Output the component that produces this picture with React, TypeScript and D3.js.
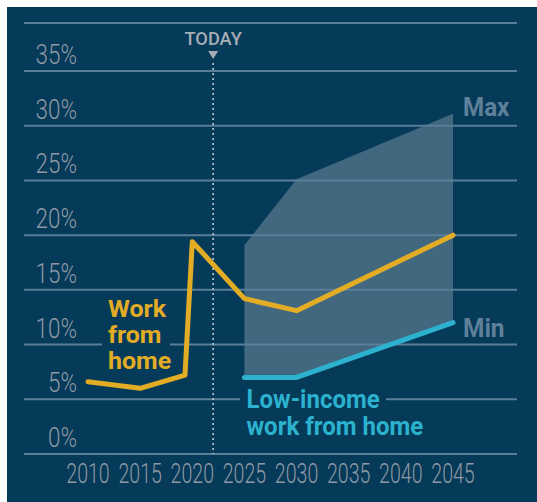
import React from "react";
import * as d3 from "d3";

const W = 537;
const H = 502;

const yTicks = [0, 5, 10, 15, 20, 25, 30, 35];
const xTicks = [2010, 2015, 2020, 2025, 2030, 2035, 2040, 2045];

const workYears = [2010, 2015, 2019.3, 2020, 2025, 2030, 2045];
const workValues = [6.6, 6.0, 7.2, 19.4, 14.2, 13.1, 20.0];

const lowYears = [2025, 2030, 2045];
const lowValues = [7.0, 7.0, 12.0];

const bandYears = [2025, 2030, 2045];
const bandMax = [19.1, 25.1, 31.1];
const bandMin = [7.0, 7.0, 12.0];

const todayYear = 2022;

const workLabel = ["Work", "from", "home"];
const lowLabel = ["Low-income", "work from home"];

const BG = "#053a59";
const GRID = "#5a7e98";
const AXIS_TEXT = "#8e99a5";
const GOLD = "#e2ad25";
const CYAN = "#2cb2ce";
const MUTED = "#5f8099";

// condensed text: natural text squeezed horizontally; lines become tspans
function CText(props: {
  x: number;
  y: number;
  sx: number;
  anchor?: "start" | "middle" | "end";
  size: number;
  weight: number;
  fill: string;
  lines?: string[];
  lineHeight?: number;
  children?: React.ReactNode;
}) {
  return (
    <text
      transform={`translate(${props.x},${props.y}) scale(${props.sx},1)`}
      textAnchor={props.anchor || "start"}
      fontSize={props.size}
      fontWeight={props.weight}
      fill={props.fill}
    >
      {props.lines
        ? props.lines.map((l, i) => (
            <tspan key={i} x={0} dy={i === 0 ? 0 : props.lineHeight}>
              {l}
            </tspan>
          ))
        : props.children}
    </text>
  );
}

export default function App() {
  const x = d3.scaleLinear().domain([2010, 2045]).range([88, 453]);
  const y = d3.scaleLinear().domain([0, 35]).range([454, 71]);

  const work = workYears.map((yr, i) => [yr, workValues[i]] as [number, number]);
  const low = lowYears.map((yr, i) => [yr, lowValues[i]] as [number, number]);
  const band = bandYears.map((yr, i) => ({ yr, lo: bandMin[i], hi: bandMax[i] }));

  const line = d3
    .line<[number, number]>()
    .x((d) => x(d[0]))
    .y((d) => y(d[1]));
  const area = d3
    .area<{ yr: number; lo: number; hi: number }>()
    .x((d) => x(d.yr))
    .y0((d) => y(d.lo))
    .y1((d) => y(d.hi));

  const gridX0 = 24;
  const gridX1 = 517;
  const tx = x(todayYear);
  const labelFont = "Roboto, 'Liberation Sans', sans-serif";

  return (
    <svg
      width={W}
      height={H}
      style={{ position: "absolute", left: 0, top: 0 }}
      fontFamily={labelFont}
    >
      <rect x={7} y={7} width={W - 7} height={H - 7} fill={BG} />

      {/* band */}
      <path d={area(band) || ""} fill="#7f95a8" fillOpacity={0.5} />

      {/* top rule */}
      <line x1={gridX0} x2={gridX1} y1={23} y2={23} stroke={GRID} strokeWidth={2} />
      {/* gridlines */}
      {yTicks.map((t) => (
        <line key={t} x1={gridX0} x2={gridX1} y1={y(t)} y2={y(t)} stroke={GRID} strokeWidth={2} />
      ))}

      {/* y labels */}
      {yTicks.map((t) => (
        <CText key={t} x={77} y={y(t) - 7} sx={0.8} anchor="end" size={28} weight={300} fill={AXIS_TEXT}>
          {t}%
        </CText>
      ))}

      {/* x labels */}
      {xTicks.map((t) => (
        <CText key={t} x={x(t)} y={483} sx={0.7} anchor="middle" size={28} weight={300} fill={AXIS_TEXT}>
          {t}
        </CText>
      ))}

      {/* today */}
      <line x1={tx} x2={tx} y1={63} y2={y(0)} stroke="#c9d1d8" strokeWidth={1.5} strokeDasharray="2,3" />
      <path d={`M${tx - 5},51 L${tx + 5},51 L${tx},59 Z`} fill="#a6adb4" />
      <CText x={tx} y={45} sx={0.96} anchor="middle" size={19} weight={500} fill="#a6adb4">
        TODAY
      </CText>

      {/* label backgrounds */}
      <rect x={102} y={296} width={68} height={76} fill={BG} />
      <rect x={240} y={389} width={146} height={22} fill={BG} />

      {/* lines */}
      <path d={line(low) || ""} fill="none" stroke={CYAN} strokeWidth={5} strokeLinecap="round" strokeLinejoin="round" />
      <path d={line(work) || ""} fill="none" stroke={GOLD} strokeWidth={5} strokeLinecap="round" strokeLinejoin="round" />

      {/* Work from home label */}
      <CText x={108} y={316.5} sx={1.02} size={24.5} weight={700} fill={GOLD} lines={workLabel} lineHeight={26.5} />

      {/* Low-income label */}
      <CText x={246.5} y={408} sx={0.96} size={25} weight={700} fill={CYAN} lines={lowLabel} lineHeight={27} />

      {/* Max / Min */}
      <CText x={463} y={116} sx={0.93} size={26} weight={700} fill={MUTED}>Max</CText>
      <CText x={463} y={337} sx={0.94} size={26} weight={700} fill={MUTED}>Min</CText>
    </svg>
  );
}
